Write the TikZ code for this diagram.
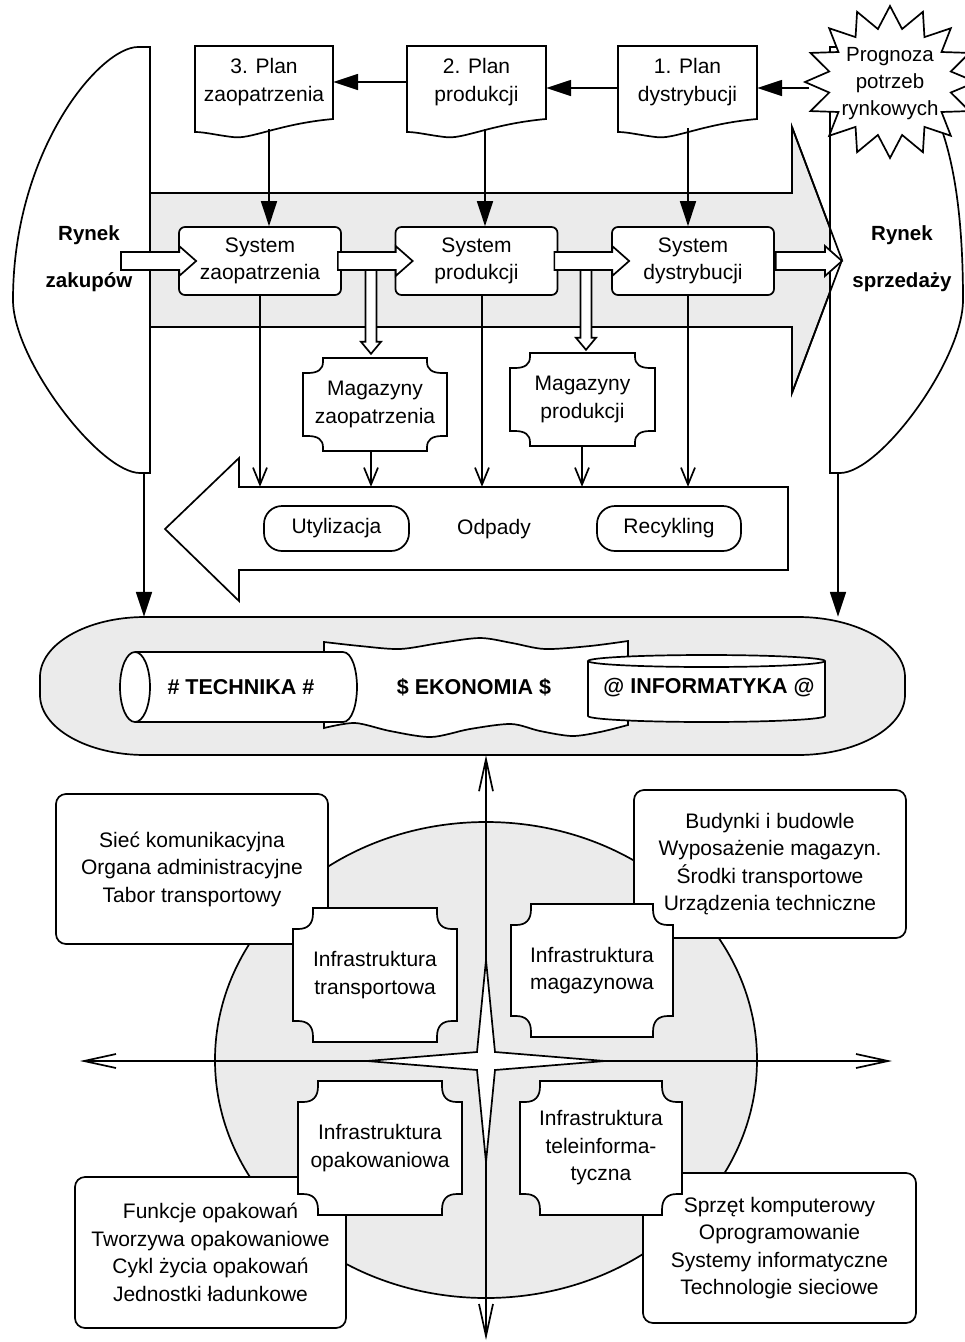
\documentclass[tikz,border=0pt]{standalone}
\usepackage{fontspec}
\setmainfont{Liberation Sans}
\usetikzlibrary{arrows.meta,calc,shapes.geometric}
\definecolor{lg}{RGB}{235,235,235}
\newcommand\plaq[5]{%
\draw[ln,fill=white] (#1+20,#2) -- (#3-20,#2) -- (#3-20,#2+0.25*#5) .. controls (#3-20,#2+0.75*#5) and (#3-15,#2+#5) .. (#3-5,#2+#5) -- (#3,#2+#5)
 -- (#3,#4-#5) -- (#3-5,#4-#5) .. controls (#3-15,#4-#5) and (#3-20,#4-0.75*#5) .. (#3-20,#4-0.25*#5) -- (#3-20,#4)
 -- (#1+20,#4) -- (#1+20,#4-0.25*#5) .. controls (#1+20,#4-0.75*#5) and (#1+15,#4-#5) .. (#1+5,#4-#5) -- (#1,#4-#5)
 -- (#1,#2+#5) -- (#1+5,#2+#5) .. controls (#1+15,#2+#5) and (#1+20,#2+0.75*#5) .. (#1+20,#2+0.25*#5) -- cycle;}
\newcommand\docshape[2]{\draw[ln,fill=white] (#1,46) -- (#2,46) -- (#2,119) .. controls ({#1+0.6*(#2-#1)},124) and ({#1+0.4*(#2-#1)},140) .. ({#1+0.27*(#2-#1)},137) .. controls ({#1+0.15*(#2-#1)},135) and ({#1+0.07*(#2-#1)},132) .. (#1,132) -- cycle;}
\newcommand\harr[2]{\draw[ln,fill=white] let \p1=(#1), \p2=(#2) in
 (\x1,\y1+9pt) -- (\x2-17pt,\y1+9pt) -- (\x2-17pt,\y1+15pt) -- (\x2,\y1) -- (\x2-17pt,\y1-15pt) -- (\x2-17pt,\y1-9pt) -- (\x1,\y1-9pt) -- cycle;}
\newcommand\varr[2]{\draw[ln,fill=white] let \p1=(#1), \p2=(#2) in
 (\x1-5.5pt,\y1) -- (\x1-5.5pt,\y2+12pt) -- (\x1-10pt,\y2+12pt) -- (\x1,\y2) -- (\x1+10pt,\y2+12pt) -- (\x1+5.5pt,\y2+12pt) -- (\x1+5.5pt,\y1) -- cycle;}
\begin{document}
\begin{tikzpicture}[x=1pt,y=-1pt,
 ln/.style={line width=1.7pt},
 txt/.style={font=\fontsize{21}{27.5}\selectfont, align=center, inner sep=0pt},
 btxt/.style={font=\fontsize{21.5}{27}\selectfont\bfseries, align=center, inner sep=0pt},
 farrow/.style={ln, -{Triangle[length=25pt,width=16pt]}},
 oarrow/.style={ln, -{Straight Barb[length=17pt,width=14pt]}},
 larrow/.style={ln, {Straight Barb[length=32pt,width=14pt]}-{Straight Barb[length=32pt,width=14pt]}},
 sysbox/.style={txt, draw, ln, fill=white, rounded corners=6pt, minimum width=162pt, minimum height=68pt},
 docnode/.style={txt, minimum width=138pt, minimum height=72pt},
 roundbox/.style={txt, draw, ln, fill=white, rounded corners=18pt, minimum width=145pt, minimum height=45pt},
 infobox/.style={txt, draw, ln, fill=white, rounded corners=10pt},
 plnode/.style={txt}
]
\useasboundingbox (0,0) rectangle (965,1342);
% big gray arrow
\draw[ln, fill=lg] (150,193) -- (792,193) -- (792,127) -- (842,260) -- (792,393) -- (792,327) -- (150,327);
% Rynek zakupow
\draw[ln, fill=white] (150,47) -- (138,47) .. controls (100,47) and (13,150) .. (13,300) .. controls (13,360) and (100,473) .. (140,473) -- (150,473) -- cycle;
\node[font=\fontsize{20.5}{47}\selectfont\bfseries, align=center, inner sep=0pt] (rz) at (89,259) {Rynek\\zakupów};
% Rynek sprzedazy
\draw[ln, fill=white] (830,47) -- (842,47) .. controls (925,47) and (963,130) .. (963,300) .. controls (963,360) and (880,473) .. (840,473) -- (830,473) -- cycle;
\node[font=\fontsize{20.5}{47}\selectfont\bfseries, align=center, inner sep=0pt] (rs) at (902,259) {Rynek\\sprzedaży};
\draw[ln] (792,127) -- (842,260) -- (792,393);
% star
\draw[ln, fill=white] (805,82) \foreach \i in {1,...,31} { -- ({890+(isodd(\i)?62:86)*cos(180+\i*11.25)}, {82+(isodd(\i)?54:76)*sin(180+\i*11.25)}) } -- cycle;
\node[font=\fontsize{20.5}{27}\selectfont, align=center, inner sep=0pt] (prog) at (890,84) {Prognoza\\potrzeb\\rynkowych};
\coordinate (progW) at (809,88);
% plans
\docshape{195}{333}
\docshape{407}{546}
\docshape{618}{757}
\node[docnode] (p3) at (264,82) {3. Plan\\zaopatrzenia};
\node[docnode, minimum width=139pt] (p2) at (476.5,82) {2. Plan\\produkcji};
\node[docnode, minimum width=139pt] (p1) at (687.5,82) {1. Plan\\dystrybucji};
\draw[farrow] (p2.west) -- (p3.east);
\draw[farrow] ([yshift=-6pt]p1.west) -- ([yshift=-6pt]p2.east);
\draw[farrow] (progW) -- (progW -| p1.east);
% systems
\node[sysbox] (sz) at (260,261) {System\\zaopatrzenia};
\node[sysbox] (sp) at (476.5,261) {System\\produkcji};
\node[sysbox] (sd) at (693,261) {System\\dystrybucji};
\draw[farrow] ([xshift=5pt,yshift=-11pt]p3.south) -- ([xshift=9pt]sz.north);
\draw[farrow] ([xshift=8.5pt,yshift=-11pt]p2.south) -- ([xshift=8.5pt]sp.north);
\draw[farrow] ([xshift=0.5pt,yshift=-10pt]p1.south) -- ([xshift=-5pt]sd.north);
% block arrows
\coordinate (rzin) at (121,261);
\coordinate (rsin) at (842,261);
\coordinate (szt) at ($(sz.west)+(18,0)$);
\coordinate (spt) at ($(sp.west)+(18,0)$);
\coordinate (sdt) at ($(sd.west)+(18,0)$);
\coordinate (szo) at ($(sz.east)+(-4,0)$);
\coordinate (spo) at ($(sp.east)+(-4,0)$);
\coordinate (sdo) at ($(sd.east)+(1,0)$);
\harr{rzin}{szt}
\harr{szo}{spt}
\harr{spo}{sdt}
\harr{sdo}{rsin}
% magazyny
\plaq{303}{358}{447}{451}{15}
\plaq{510}{353}{655}{446}{15}
\node[plnode, minimum width=144pt, minimum height=93pt] (mz) at (375,404.5) {Magazyny\\zaopatrzenia};
\node[plnode, minimum width=145pt, minimum height=93pt] (mp) at (582.5,399.5) {Magazyny\\produkcji};
\coordinate (vz) at (371,270);
\coordinate (vp) at (586,270);
\coordinate (vzt) at ($(vz |- mz.north)+(0,-4)$);
\coordinate (vpt) at ($(vp |- mp.north)+(0,-3)$);
\varr{vz}{vzt}
\varr{vp}{vpt}
% odpady
\draw[ln, fill=white] (788,487) -- (239,487) -- (239,458) -- (165,529) -- (239,601) -- (239,570) -- (788,570) -- cycle;
\node[inner sep=0pt, minimum width=549pt, minimum height=83pt] (odp) at (513.5,528.5) {};
\node[txt] (odptxt) at (494,529) {Odpady};
\node[roundbox] (uty) at (336.5,528.5) {Utylizacja};
\node[roundbox, minimum width=144pt] (rec) at (669,528.5) {Recykling};
\coordinate (spb) at ($(sp.south)+(5.5,0)$);
\coordinate (sdb) at ($(sd.south)+(-5,0)$);
\coordinate (mzb) at (vz |- mz.south);
\coordinate (mpb) at ($(mp.south)+(-0.5,0)$);
\draw[oarrow] (sz.south) -- (sz.south |- odp.north);
\draw[oarrow] (mzb) -- (mzb |- odp.north);
\draw[oarrow] (spb) -- (spb |- odp.north);
\draw[oarrow] (mpb) -- (mpb |- odp.north);
\draw[oarrow] (sdb) -- (sdb |- odp.north);
% band
\draw[ln, fill=lg] (145,617) -- (798,617) .. controls (856,617) and (905,644) .. (905,677) -- (905,695) .. controls (905,728) and (856,755) .. (798,755) -- (145,755) .. controls (87,755) and (40,728) .. (40,695) -- (40,677) .. controls (40,644) and (87,617) .. (145,617) -- cycle;
\node[inner sep=0pt, minimum width=865pt, minimum height=138pt] (band) at (472.5,686) {};
\coordinate (rzb) at (144,473);
\coordinate (rsb) at (838,473);
\draw[farrow] (rzb) -- (rzb |- band.north);
\draw[farrow] (rsb) -- (rsb |- band.north);
% ekonomia tape
\draw[ln, fill=white] plot[smooth] coordinates {(324,642) (360,646) (400,649) (440,643) (480,638) (512,643) (545,649) (590,646) (628,641)} -- plot[smooth] coordinates {(628,725) (600,732) (572,736) (540,731) (511,724) (470,729) (431,737) (390,731) (355,723) (324,728)} -- cycle;
\node[btxt] (eko) at (474,687) {\$ EKONOMIA \$};
% technika cylinder
\draw[ln, fill=white] (135,652) -- (343,652) .. controls (352,652) and (357,670) .. (357,687) .. controls (357,704) and (352,722) .. (343,722) -- (135,722);
\draw[ln, fill=white] (135,687) ellipse [x radius=15pt, y radius=35pt];
\node[btxt] (tech) at (241,687) {\# TECHNIKA \#};
% informatyka cylinder
\draw[ln, fill=white] (588,661) -- (588,716) .. controls (588,719.3) and (641,722) .. (706.5,722) .. controls (772,722) and (825,719.3) .. (825,716) -- (825,661);
\draw[ln, fill=white] (706.5,661) ellipse [x radius=118.5pt, y radius=6pt];
\node[btxt] (info) at (709,688) {@ INFORMATYKA @};
% bottom part
\node[ellipse, draw, ln, fill=lg, minimum width=542pt, minimum height=476pt, inner sep=0pt] (circ) at (486,1060) {};
\coordinate (hl) at (80,1061);
\coordinate (hr) at (892,1061);
\coordinate (vb) at (486,1340);
\draw[larrow] (hl) -- (hr);
\draw[larrow] (circ.north |- band.south) -- (vb);
\draw[ln, fill=white] (486,960) -- (495,1052) -- (605,1061) -- (495,1070) -- (486,1162) -- (477,1070) -- (367,1061) -- (477,1052) -- cycle;
\node[infobox, minimum width=272pt, minimum height=150pt] (tl) at (192,869) {Sieć komunikacyjna\\Organa administracyjne\\Tabor transportowy};
\node[infobox, minimum width=272pt, minimum height=148pt] (tr) at (770,864) {Budynki i budowle\\Wyposażenie magazyn.\\Środki transportowe\\Urządzenia techniczne};
\node[infobox, minimum width=271pt, minimum height=151pt] (bl) at (210.5,1252.5) {Funkcje opakowań\\Tworzywa opakowaniowe\\Cykl życia opakowań\\Jednostki ładunkowe};
\node[infobox, minimum width=273pt, minimum height=150pt] (br) at (779.5,1248) {Sprzęt komputerowy\\Oprogramowanie\\Systemy informatyczne\\Technologie sieciowe};
\plaq{293}{908}{457}{1042}{21}
\plaq{511}{904}{673}{1037}{21}
\plaq{298}{1081}{462}{1215}{21}
\plaq{520}{1081}{682}{1215}{21}
\node[plnode, minimum width=164pt, minimum height=134pt] (it) at (375,975) {Infrastruktura\\transportowa};
\node[plnode, minimum width=162pt, minimum height=133pt] (im) at (592,970.5) {Infrastruktura\\magazynowa};
\node[plnode, minimum width=164pt, minimum height=134pt] (io) at (380,1148) {Infrastruktura\\opakowaniowa};
\node[plnode, minimum width=162pt, minimum height=134pt] (itel) at (601,1148) {Infrastruktura\\teleinforma-\\tyczna};
\end{tikzpicture}
\end{document}
